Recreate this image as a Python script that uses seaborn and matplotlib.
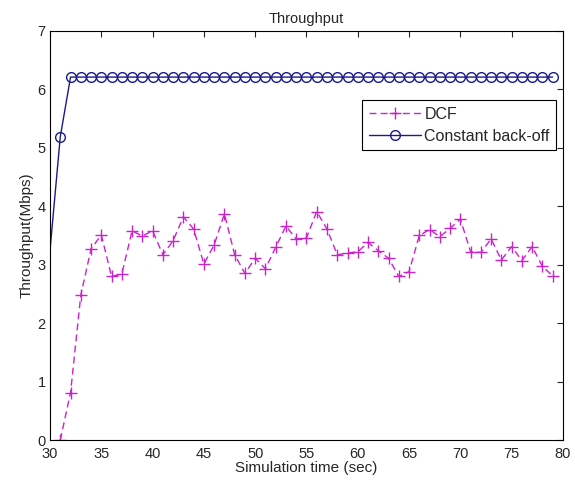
import matplotlib
matplotlib.use("Agg")
import matplotlib.pyplot as plt
import pandas as pd
import seaborn as sns

# simulation time (sec)
time_dcf = list(range(31, 80))
dcf = [0.0, 0.81, 2.48, 3.27, 3.51, 2.80, 2.84, 3.58, 3.49, 3.58,
       3.17, 3.41, 3.82, 3.61, 3.01, 3.34, 3.87, 3.17, 2.85, 3.11,
       2.93, 3.30, 3.66, 3.44, 3.46, 3.91, 3.61, 3.17, 3.20, 3.22,
       3.38, 3.24, 3.11, 2.80, 2.88, 3.50, 3.60, 3.48, 3.62, 3.78,
       3.22, 3.21, 3.44, 3.08, 3.31, 3.07, 3.31, 2.97, 2.81]

time_cb = list(range(30, 80))
const_backoff = [3.25, 5.19] + [6.21] * 48

sns.set_style("white")
plt.rcParams['font.family'] = ['Liberation Sans', 'DejaVu Sans']

df_dcf = pd.DataFrame({"time": time_dcf, "value": dcf})
df_cb = pd.DataFrame({"time": time_cb, "value": const_backoff})

fig = plt.figure(figsize=(5.75, 4.83), dpi=100)
ax = fig.add_axes([0.087, 0.089, 0.892, 0.847])

sns.lineplot(data=df_dcf, x="time", y="value", ax=ax, color="#cc22cc",
             linestyle=(0, (5, 3)), linewidth=1, marker="+", markersize=9,
             markeredgewidth=1, markeredgecolor="#cc22cc", label="DCF")
sns.lineplot(data=df_cb, x="time", y="value", ax=ax, color="#1a1a8c",
             linewidth=1, marker="o", markersize=7, markerfacecolor="none",
             markeredgewidth=1, markeredgecolor="#1a1a8c",
             markevery=list(range(1, len(time_cb))),
             label="Constant back-off")

ax.set_xlim(30, 80)
ax.set_ylim(0, 7)
ax.set_xticks(range(30, 81, 5))
ax.set_yticks(range(0, 8))
ax.tick_params(direction="in", top=True, right=True, labelsize=10.5, length=4,
               width=0.8)
ax.tick_params(axis="x", pad=5)
ax.tick_params(axis="y", pad=3)
for s in ax.spines.values():
    s.set_linewidth(0.8)
    s.set_color("black")
ax.set_xlabel("Simulation time (sec)", fontsize=11, labelpad=0)
ax.set_ylabel("Throughput(Mbps)", fontsize=11, labelpad=3)
ax.set_title("Throughput", fontsize=10.5, pad=6)

leg = ax.legend(loc="upper right", bbox_to_anchor=(0.987, 0.83), fontsize=11.5,
                fancybox=False, framealpha=1, edgecolor="black",
                handlelength=3.3, borderpad=0.4, labelspacing=0.45,
                handletextpad=0.2, borderaxespad=0)
leg.get_frame().set_linewidth(0.8)

fig.savefig("out.png", dpi=100)
